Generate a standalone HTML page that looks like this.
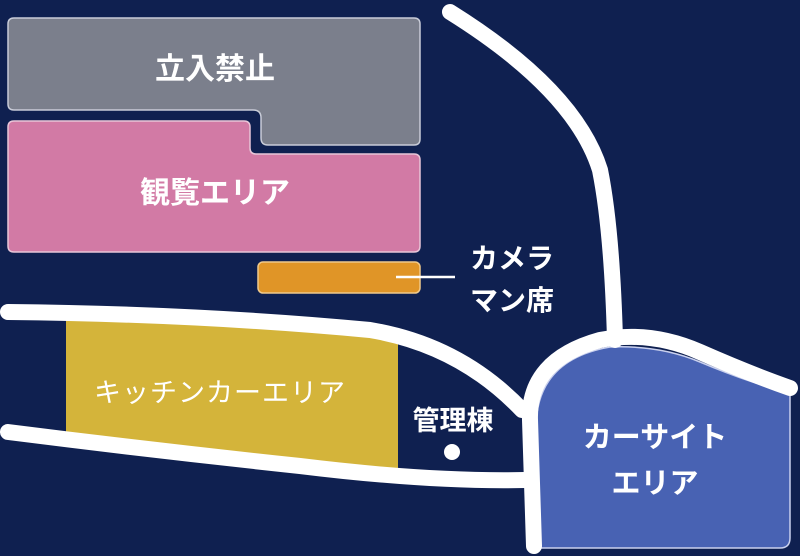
<!DOCTYPE html>
<html><head><meta charset="utf-8"><style>
html,body{margin:0;padding:0;background:#0f2050;}
svg{display:block}
text{font-family:"Liberation Sans","Noto Sans CJK JP",sans-serif;fill:#fff;}
</style></head><body>
<svg width="800" height="556" viewBox="0 0 800 556" xmlns="http://www.w3.org/2000/svg">
<rect width="800" height="556" fill="#0f2050"/>
<path d="M14 18 H414 Q420 18 420 24 V139 Q420 145 414 145 H268 Q261 145 261 138 V118 Q261 110 253 110 H14 Q8 110 8 104 V24 Q8 18 14 18 Z" fill="#7b7f8c" stroke="#c9ccd8" stroke-width="1.5"/>
<path d="M14 121 H244 Q250 121 250 127 V148 Q250 154 256 154 H414 Q420 154 420 160 V246 Q420 252 414 252 H14 Q8 252 8 246 V127 Q8 121 14 121 Z" fill="#d27aa5" stroke="#e8c6d8" stroke-width="1.5"/>
<rect x="258" y="262" width="162" height="31" rx="5" fill="#e09527" stroke="#f0c98a" stroke-width="1.5"/>
<line x1="396" y1="277" x2="455" y2="277" stroke="#fff" stroke-width="2.5"/>
<path d="M66 318 L398 336 L398 470 L66 436 Z" fill="#d4b43a"/>
<path d="M538 548 L536 430 Q535 360 610 347 Q660 345 700 362 Q750 383 790 393 V538 Q790 548 780 548 Z" fill="#4862b3" stroke="#c9d0ee" stroke-width="1.5"/>
<g fill="none" stroke="#fff" stroke-width="16" stroke-linecap="round" stroke-linejoin="round">
<path d="M450 12 Q575 90 600 170 Q612 230 615 340"/>
<path d="M8 312 Q200 314 370 330 Q460 345 522 410"/>
<path d="M8 432 Q150 450 300 466 Q430 482 525 480"/>
<path d="M534 546 L530 420 Q528 360 600 340 Q650 330 700 352 Q750 374 790 388"/>
</g>
<circle cx="452" cy="452" r="8" fill="#fff"/>
<g font-size="30" font-weight="bold" text-anchor="middle">
<text x="215" y="79">立入禁止</text>
<text x="215" y="203">観覧エリア</text>
</g>
<g font-size="27" text-anchor="middle" font-weight="bold">
<text x="220" y="402" font-weight="normal" letter-spacing="1">キッチンカーエリア</text>
<text x="453" y="430" font-size="27">管理棟</text>
<text x="655" y="447" font-size="29">カーサイト</text>
<text x="655" y="493" font-size="29">エリア</text>
</g>
<g font-size="28" font-weight="bold">
<text x="470" y="268">カメラ</text>
<text x="470" y="310">マン席</text>
</g>
</svg>
</body></html>
